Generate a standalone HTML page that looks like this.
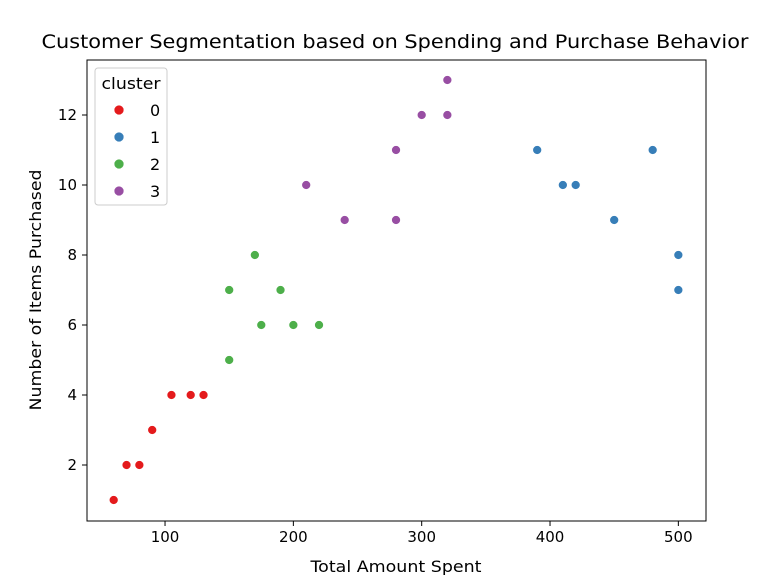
<!DOCTYPE html>
<html><head><meta charset="utf-8"><style>
body{margin:0;background:#fff;font-family:"DejaVu Sans","Liberation Sans",sans-serif;}
</style></head><body>
<svg width="767" height="575" xmlns="http://www.w3.org/2000/svg" font-family="'DejaVu Sans','Liberation Sans',sans-serif">
<text x="395" y="48" font-size="19" text-anchor="middle" textLength="707" lengthAdjust="spacingAndGlyphs">Customer Segmentation based on Spending and Purchase Behavior</text>
<g id="axes"></g>
<g id="pts"></g>
<rect x="87" y="60" width="619" height="461" fill="none" stroke="#000" stroke-width="1"/>
<text x="396" y="572" font-size="16" text-anchor="middle" textLength="171" lengthAdjust="spacingAndGlyphs">Total Amount Spent</text>
<text transform="translate(41,290) rotate(-90)" font-size="16" text-anchor="middle" textLength="241" lengthAdjust="spacingAndGlyphs">Number of Items Purchased</text>
<g>
<rect x="95" y="68" width="72" height="137" rx="3" fill="#fff" fill-opacity="0.8" stroke="#ccc"/>
<text x="131" y="89" font-size="16" text-anchor="middle" textLength="59" lengthAdjust="spacingAndGlyphs">cluster</text>
<g id="leg"></g>
</g>
</svg>
<script>
const clusterIds=[0,1,2,3];
const colors=["#e41a1c","#377eb8","#4daf4a","#984ea3"];
const spent=[60,70,80,90,105,120,130, 390,410,420,450,480,500,500, 150,150,170,175,190,200,220, 210,240,280,280,300,320,320];
const items=[1,2,2,3,4,4,4, 11,10,10,9,11,8,7, 7,5,8,6,7,6,6, 10,9,11,9,12,13,12];
const cluster=[0,0,0,0,0,0,0, 1,1,1,1,1,1,1, 2,2,2,2,2,2,2, 3,3,3,3,3,3,3];
const xTicks=[100,200,300,400,500];
const yTicks=[2,4,6,8,10,12];
const NS="http://www.w3.org/2000/svg";
const xs=v=>36.7+v*1.2833;
const ys=v=>535-v*35;
const ax=document.getElementById('axes');
function mk(t,a,p){const e=document.createElementNS(NS,t);for(const k in a)e.setAttribute(k,a[k]);p.appendChild(e);return e;}
xTicks.forEach(v=>{
 const l=mk('line',{x1:xs(v),x2:xs(v),y1:521,y2:526,stroke:'#000'},ax);
 
 
 const t=mk('text',{x:xs(v),y:542,'font-size':15,'text-anchor':'middle'},ax);t.textContent=v;
 
 
});
yTicks.forEach(v=>{
 const l=mk('line',{x1:82,x2:87,y1:ys(v),y2:ys(v),stroke:'#000'},ax);
 
 
 const t=mk('text',{x:77,y:ys(v)+5,'font-size':15,'text-anchor':'end'},ax);t.textContent=v;
 
 
});
const pg=document.getElementById('pts');
spent.forEach((s,i)=>{
 const c=mk('circle',{cx:xs(s),cy:ys(items[i]),r:4.5,fill:colors[cluster[i]],stroke:'#fff','stroke-width':0.7},pg);
 
 
});
const lg=document.getElementById('leg');
clusterIds.forEach((c,i)=>{
 const y=110+i*27;
 const d=mk('circle',{cx:119,cy:y,r:5,fill:colors[i],stroke:'#fff','stroke-width':0.7},lg);
 
 
 const t=mk('text',{x:150,y:y+6,'font-size':16},lg);t.textContent=c;
 
 
});
</script>
</body></html>
